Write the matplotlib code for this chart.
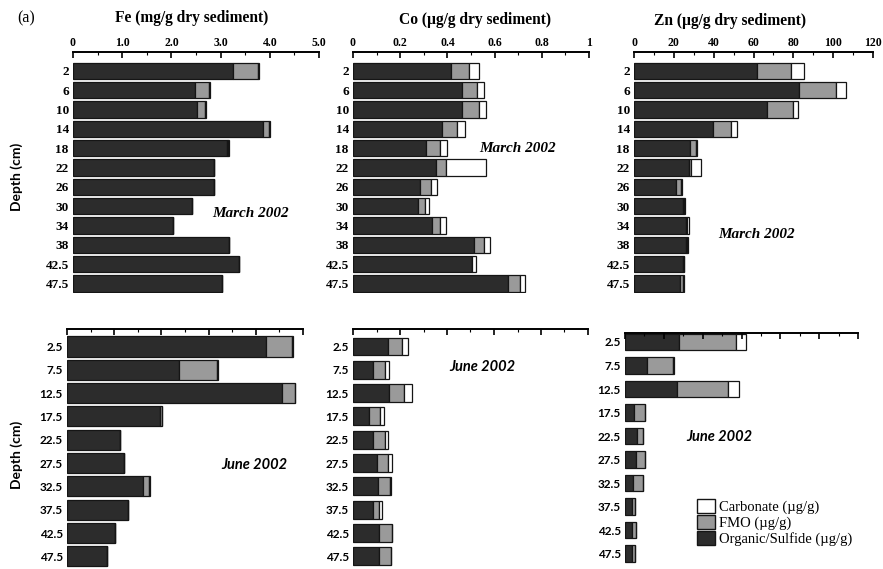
import numpy as np
import matplotlib
matplotlib.use('Agg')
from matplotlib import pyplot as plt
from matplotlib.patches import Patch

## depth labels
depth_mar = ['2', '6', '10', '14', '18', '22', '26', '30', '34', '38', '42.5', '47.5']
depth_jun = ['2.5', '7.5', '12.5', '17.5', '22.5', '27.5', '32.5', '37.5', '42.5', '47.5']

## March 2002 fractions
fe_mar_org = [3.25, 2.48, 2.53, 3.86, 3.12, 2.87, 2.87, 2.42, 2.04, 3.17, 3.38, 3.03]
fe_mar_fmo = [0.50, 0.28, 0.15, 0.12, 0.04, 0, 0, 0, 0, 0, 0, 0]
fe_mar_carb = [0.03, 0.02, 0.02, 0.02, 0.01, 0, 0, 0, 0, 0, 0, 0]

co_mar_org = [0.417, 0.463, 0.463, 0.376, 0.310, 0.350, 0.283, 0.275, 0.336, 0.514, 0.503, 0.655]
co_mar_fmo = [0.073, 0.063, 0.073, 0.064, 0.060, 0.042, 0.047, 0.029, 0.031, 0.042, 0.0, 0.052]
co_mar_carb = [0.043, 0.027, 0.029, 0.035, 0.027, 0.173, 0.024, 0.018, 0.026, 0.026, 0.017, 0.020]

zn_mar_org = [61.8, 82.8, 67.0, 39.7, 28.0, 27.6, 21.3, 24.6, 26.0, 26.0, 24.6, 23.0]
zn_mar_fmo = [17.2, 18.5, 12.6, 8.9, 3.3, 1.2, 2.2, 0.6, 0.8, 0.6, 0.4, 1.6]
zn_mar_carb = [6.3, 5.1, 2.8, 2.9, 0.3, 4.6, 0.5, 0.6, 0.8, 0.5, 0.3, 0.3]

## June 2002 fractions
fe_jun_org = [4.21, 2.37, 4.56, 1.98, 1.13, 1.21, 1.61, 1.30, 1.02, 0.85]
fe_jun_fmo = [0.56, 0.81, 0.26, 0.03, 0, 0, 0.13, 0, 0, 0]
fe_jun_carb = [0.02, 0.02, 0.02, 0, 0, 0, 0.02, 0, 0, 0]

co_jun_org = [0.147, 0.087, 0.155, 0.066, 0.085, 0.102, 0.106, 0.085, 0.111, 0.111]
co_jun_fmo = [0.061, 0.050, 0.063, 0.047, 0.052, 0.045, 0.052, 0.024, 0.053, 0.049]
co_jun_carb = [0.028, 0.018, 0.035, 0.021, 0.014, 0.020, 0.002, 0.014, 0.002, 0.002]

zn_jun_org = [27.8, 11.1, 26.9, 4.8, 6.0, 5.7, 4.0, 3.4, 3.4, 3.4]
zn_jun_fmo = [29.6, 13.8, 26.2, 5.5, 3.4, 4.6, 5.4, 1.7, 2.3, 1.7]
zn_jun_carb = [4.7, 0.1, 5.7, 0, 0, 0, 0, 0, 0, 0]

fe_ticks = ['0', '1.0', '2.0', '3.0', '4.0', '5.0']
co_ticks = ['0', '0.2', '0.4', '0.6', '0.8', '1']
zn_ticks = ['0', '20', '40', '60', '80', '100', '120']

C_ORG = '#2c2c2c'
C_FMO = '#9a9a9a'
C_CARB = '#ffffff'
SERIF = ['Liberation Serif', 'DejaVu Serif']
SANS = ['Lato', 'DejaVu Sans']

W, H = 883, 569
fig = plt.figure(figsize=(W / 100, H / 100), dpi=100)


def px_axes(x0, x1, ytop, ybot):
    return fig.add_axes([x0 / W, 1 - ybot / H, (x1 - x0) / W, (ybot - ytop) / H])


def stack(ax, labels, org, fmo, carb, h, ylim, xmax, ticks, show_ticklabels, lab_font, lab_size):
    y = np.arange(len(labels))
    org = np.array(org); fmo = np.array(fmo); carb = np.array(carb)
    kw = dict(height=h, edgecolor='#151515', linewidth=0.9)
    ax.barh(y, org, color=C_ORG, **kw)
    ax.barh(y, fmo, left=org, color=C_FMO, **kw)
    ax.barh(y, carb, left=org + fmo, color=C_CARB, **kw)
    ax.set_ylim(*ylim)
    ax.set_xlim(0, xmax)
    ax.set_yticks(y)
    ax.set_yticklabels(labels, fontfamily=lab_font, fontweight='bold', fontsize=lab_size)
    ax.tick_params(axis='y', length=0, pad=3)
    ax.xaxis.set_ticks_position('top')
    ax.set_xticks(np.linspace(0, xmax, len(ticks)))
    if show_ticklabels:
        ax.set_xticklabels(ticks, fontfamily=SERIF, fontweight='bold', fontsize=8.5)
    else:
        ax.set_xticklabels([])
    ax.set_xticks(np.linspace(0, xmax, 2 * len(ticks) - 1), minor=True)
    ax.tick_params(axis='x', which='major', direction='in', length=4, width=1.2, pad=2)
    ax.tick_params(axis='x', which='minor', direction='in', length=2, width=0.8)
    for s in ['right', 'bottom', 'left']:
        ax.spines[s].set_visible(False)
    ax.spines['top'].set_linewidth(1.4)
    ax.patch.set_alpha(0)


## top row: March 2002
top_ylim = (11.5, -0.98)
ax = px_axes(73, 319, 52, 293)
stack(ax, depth_mar, fe_mar_org, fe_mar_fmo, fe_mar_carb, 0.85, top_ylim, 5.0, fe_ticks, True, SERIF, 9.5)
ax = px_axes(353, 589, 52, 293)
stack(ax, depth_mar, co_mar_org, co_mar_fmo, co_mar_carb, 0.85, top_ylim, 1.0, co_ticks, True, SERIF, 9.5)
ax = px_axes(634, 873, 52, 293)
stack(ax, depth_mar, zn_mar_org, zn_mar_fmo, zn_mar_carb, 0.85, top_ylim, 120, zn_ticks, True, SERIF, 9.5)

## bottom row: June 2002
ax = px_axes(67, 303, 329, 569)
stack(ax, depth_jun, fe_jun_org, fe_jun_fmo, fe_jun_carb, 0.86, (9.54, -0.75), 5.0, fe_ticks, False, SANS, 8.5)
ax = px_axes(353, 588, 329, 569)
stack(ax, depth_jun, co_jun_org, co_jun_fmo, co_jun_carb, 0.77, (9.54, -0.75), 1.0, co_ticks, False, SANS, 8.5)
ax = px_axes(625, 858, 333, 569)
stack(ax, depth_jun, zn_jun_org, zn_jun_fmo, zn_jun_carb, 0.70, (9.65, -0.38), 120, zn_ticks, False, SANS, 8.5)


def ftext(x, y, s, **kw):
    fig.text(x / W, 1 - y / H, s, ha='center', va='center', **kw)


ftext(26, 18, '(a)', fontfamily=SERIF, fontsize=11.5)
ftext(192, 18, 'Fe (mg/g dry sediment)', fontfamily=SERIF, fontweight='bold', fontsize=11.2)
ftext(475, 20, 'Co (µg/g dry sediment)', fontfamily=SERIF, fontweight='bold', fontsize=11.2)
ftext(730, 21, 'Zn (µg/g dry sediment)', fontfamily=SERIF, fontweight='bold', fontsize=11.2)

ftext(17, 177, 'Depth (cm)', fontfamily=SANS, fontweight='bold', fontsize=10, rotation=90)
ftext(17, 455, 'Depth (cm)', fontfamily=SANS, fontweight='bold', fontsize=10, rotation=90)

for x, y in [(251, 213), (518, 148), (757, 235)]:
    ftext(x, y, 'March 2002', fontfamily=SERIF, fontstyle='italic', fontweight='bold', fontsize=11)
for x, y in [(254, 465), (482, 367), (719, 437)]:
    ftext(x, y, 'June 2002', fontfamily=SANS, fontstyle='italic', fontweight='bold', fontsize=10.5)

handles = [Patch(facecolor=C_CARB, edgecolor='#151515', label='Carbonate (µg/g)'),
           Patch(facecolor=C_FMO, edgecolor='#151515', label='FMO (µg/g)'),
           Patch(facecolor=C_ORG, edgecolor='#151515', label='Organic/Sulfide (µg/g)')]
fig.legend(handles=handles, loc='upper left', bbox_to_anchor=(697 / W, 1 - 499 / H),
           frameon=False, prop={'family': SERIF, 'size': 10.5},
           handlelength=1.2, handleheight=1.1, handletextpad=0.3, labelspacing=0.05,
           borderaxespad=0, borderpad=0)

fig.savefig('out.png', dpi=100)
